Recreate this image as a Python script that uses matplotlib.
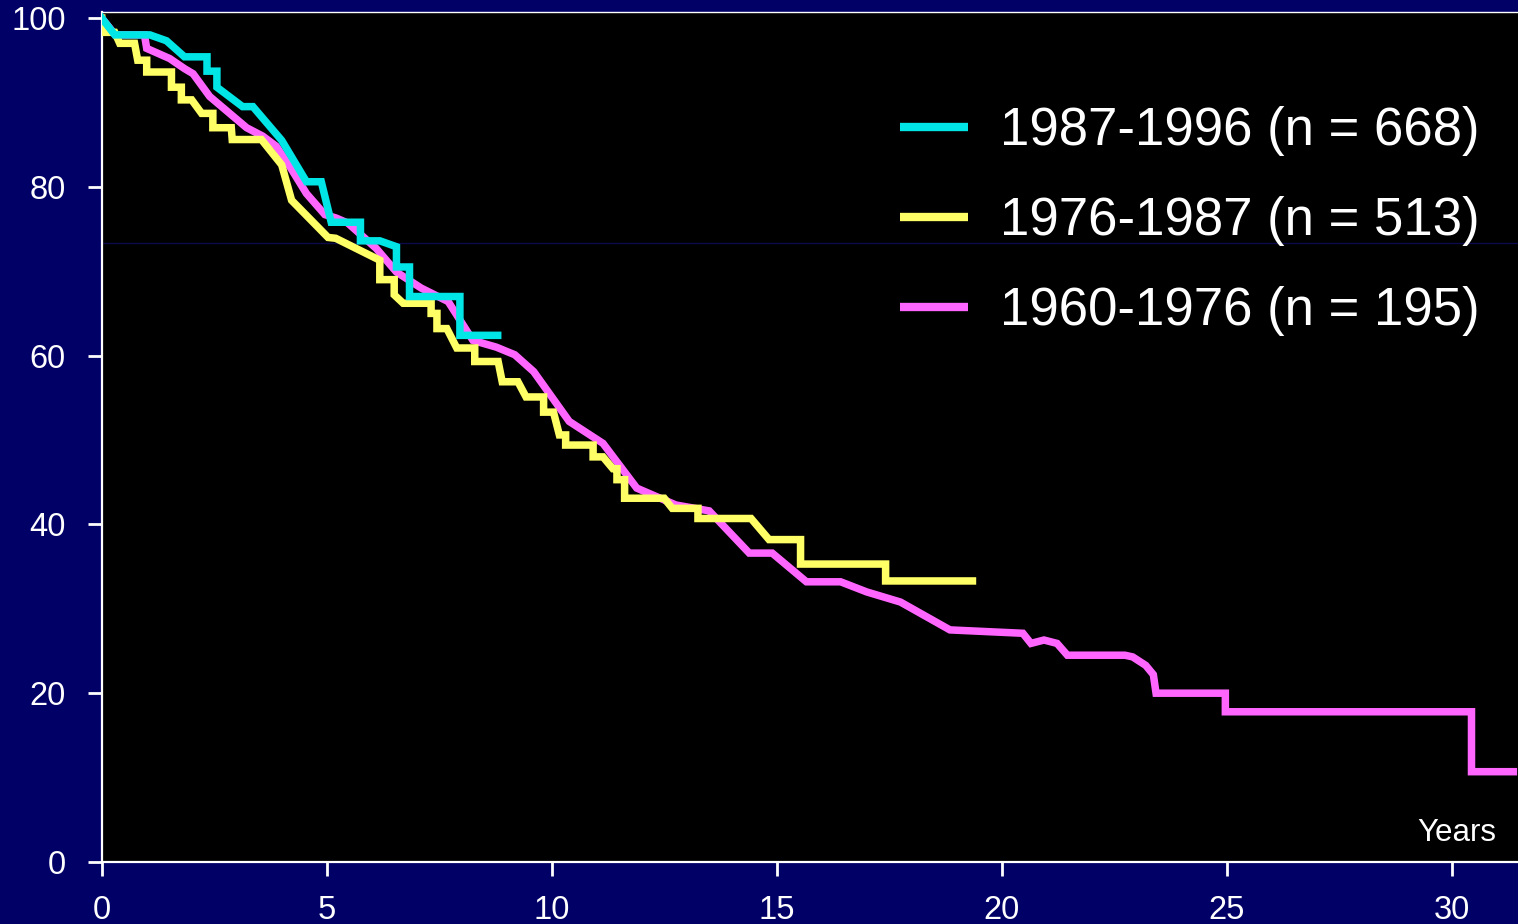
import matplotlib.pyplot as plt

plt.rcParams['font.family'] = ['Liberation Sans', 'DejaVu Sans']

# survival (%) vs years
years_1960 = [0, 0.3, 0.95, 1.0, 1.51, 1.84, 2.03, 2.4, 3.22, 3.58, 3.88, 4.18, 4.55,
              4.96, 5.21, 5.47, 6.1, 6.55, 7.1, 7.7, 8.25, 8.77, 9.18, 9.6, 10.39,
              11.14, 11.89, 12.76, 13.5, 14.39, 14.9, 15.66, 16.42, 17.0, 17.75,
              18.85, 20.47, 20.65, 20.94, 21.23, 21.46, 22.74, 22.91, 23.2, 23.37,
              23.43, 24.97, 24.97, 30.44, 30.44, 31.37]
surv_1960 = [100, 98, 98, 96.4, 95.2, 94.0, 93.4, 90.7, 87.0, 86.0, 84.8, 82.4, 79.2,
             76.7, 76.3, 75.7, 72.7, 69.9, 68.0, 66.4, 61.8, 61.0, 60.1, 58.1, 52.2,
             49.6, 44.3, 42.3, 41.6, 36.6, 36.6, 33.2, 33.2, 32.0, 30.8,
             27.5, 27.1, 25.9, 26.3, 25.9, 24.5, 24.5, 24.3, 23.3, 22.2,
             20.0, 20.0, 17.8, 17.8, 10.7, 10.7]

years_1976 = [0, 0, 0.29, 0.4, 0.73, 0.8, 1.0, 1.0, 1.55, 1.55, 1.77, 1.77, 2.0, 2.22,
              2.47, 2.47, 2.88, 2.9, 3.55, 4.0, 4.22, 5.03, 5.2, 6.18, 6.18, 6.5, 6.5,
              6.7, 7.32, 7.32, 7.45, 7.45, 7.67, 7.89, 8.29, 8.29, 8.81, 8.9, 9.25,
              9.43, 9.82, 9.82, 10.04, 10.17, 10.31, 10.31, 10.92, 10.92, 11.14,
              11.36, 11.45, 11.45, 11.62, 11.62, 12.5, 12.68, 13.25, 13.25, 14.43,
              14.83, 15.53, 15.53, 17.42, 17.42, 19.35]
surv_1976 = [100, 98.3, 98.3, 97.0, 97.0, 95.0, 95.0, 93.6, 93.6, 91.8, 91.8, 90.3,
             90.3, 88.7, 88.7, 87.0, 87.0, 85.6, 85.6, 82.6, 78.4, 74.0, 73.9, 71.3,
             69.0, 69.0, 67.2, 66.2, 66.2, 65.0, 65.0, 63.2, 63.2, 60.9, 60.9, 59.3,
             59.3, 56.9, 56.9, 55.1, 55.1, 53.3, 53.3, 50.6, 50.6, 49.4, 49.4, 48.0,
             48.0, 46.6, 46.6, 45.3, 45.3, 43.1, 43.1, 41.9, 41.9, 40.7, 40.7,
             38.2, 38.2, 35.3, 35.3, 33.3, 33.3]

years_1987 = [0, 0.29, 1.07, 1.44, 1.84, 2.34, 2.34, 2.56, 2.56, 3.13, 3.36, 4.0, 4.55,
              4.88, 5.1, 5.75, 5.75, 6.18, 6.55, 6.55, 6.84, 6.84, 7.96, 7.96, 8.8]
surv_1987 = [100, 98, 98, 97.3, 95.4, 95.4, 93.7, 93.7, 91.8, 89.5, 89.5, 85.5, 80.6,
             80.6, 75.8, 75.8, 73.6, 73.6, 72.9, 70.5, 70.5, 67.0, 67.0, 62.4, 62.4]

labels = ['1987-1996 (n = 668)', '1976-1987 (n = 513)', '1960-1976 (n = 195)']
colors = ['#00e5e5', '#ffff66', '#ff66ff']
navy = '#000066'

fig = plt.figure(figsize=(15.18, 9.24), dpi=100, facecolor=navy)
ax = fig.add_axes([101.7 / 1518, 62 / 924, 1 - 101.7 / 1518, (862 - 12) / 924])
ax.set_facecolor('black')

ax.axhline(73.3, color='#0b0b4a', lw=1, zorder=1)

lw = 5.4
l3, = ax.plot(years_1960, surv_1960, color=colors[2], lw=lw, solid_joinstyle='miter', zorder=2)
l2, = ax.plot(years_1976, surv_1976, color=colors[1], lw=lw, solid_joinstyle='miter', zorder=3)
l1, = ax.plot(years_1987, surv_1987, color=colors[0], lw=lw, solid_joinstyle='miter', zorder=4)

ax.set_xlim(0, (1518 - 101.7) / 45.0)
ax.set_ylim(0, 850 / 8.44)
ax.set_xticks([0, 5, 10, 15, 20, 25, 30])
ax.set_yticks([0, 20, 40, 60, 80, 100])

for side in ['left', 'bottom', 'top']:
    ax.spines[side].set_color('white')
    ax.spines[side].set_linewidth(1.6)
ax.spines['top'].set_linewidth(1.0)
ax.spines['right'].set_visible(False)

ax.tick_params(axis='both', colors='white', labelsize=23.5, length=10, width=2, direction='out')
ax.tick_params(axis='y', pad=16)
ax.tick_params(axis='x', pad=14)

ax.text(31.0, 3.4, 'Years', color='white', fontsize=22.5, ha='right', va='center')

leg = ax.legend([l1, l2, l3], labels, loc='upper left', bbox_to_anchor=(900 / 1518, 1 - 106 / 924),
                bbox_transform=fig.transFigure, frameon=False, fontsize=38, handlelength=1.29,
                handletextpad=0.6, labelspacing=0.76, borderpad=0, borderaxespad=0)
for t in leg.get_texts():
    t.set_color('white')
for h in leg.get_lines():
    h.set_linewidth(6)
    h.set_solid_capstyle('butt')

fig.savefig('out.png', dpi=100, facecolor=navy)
